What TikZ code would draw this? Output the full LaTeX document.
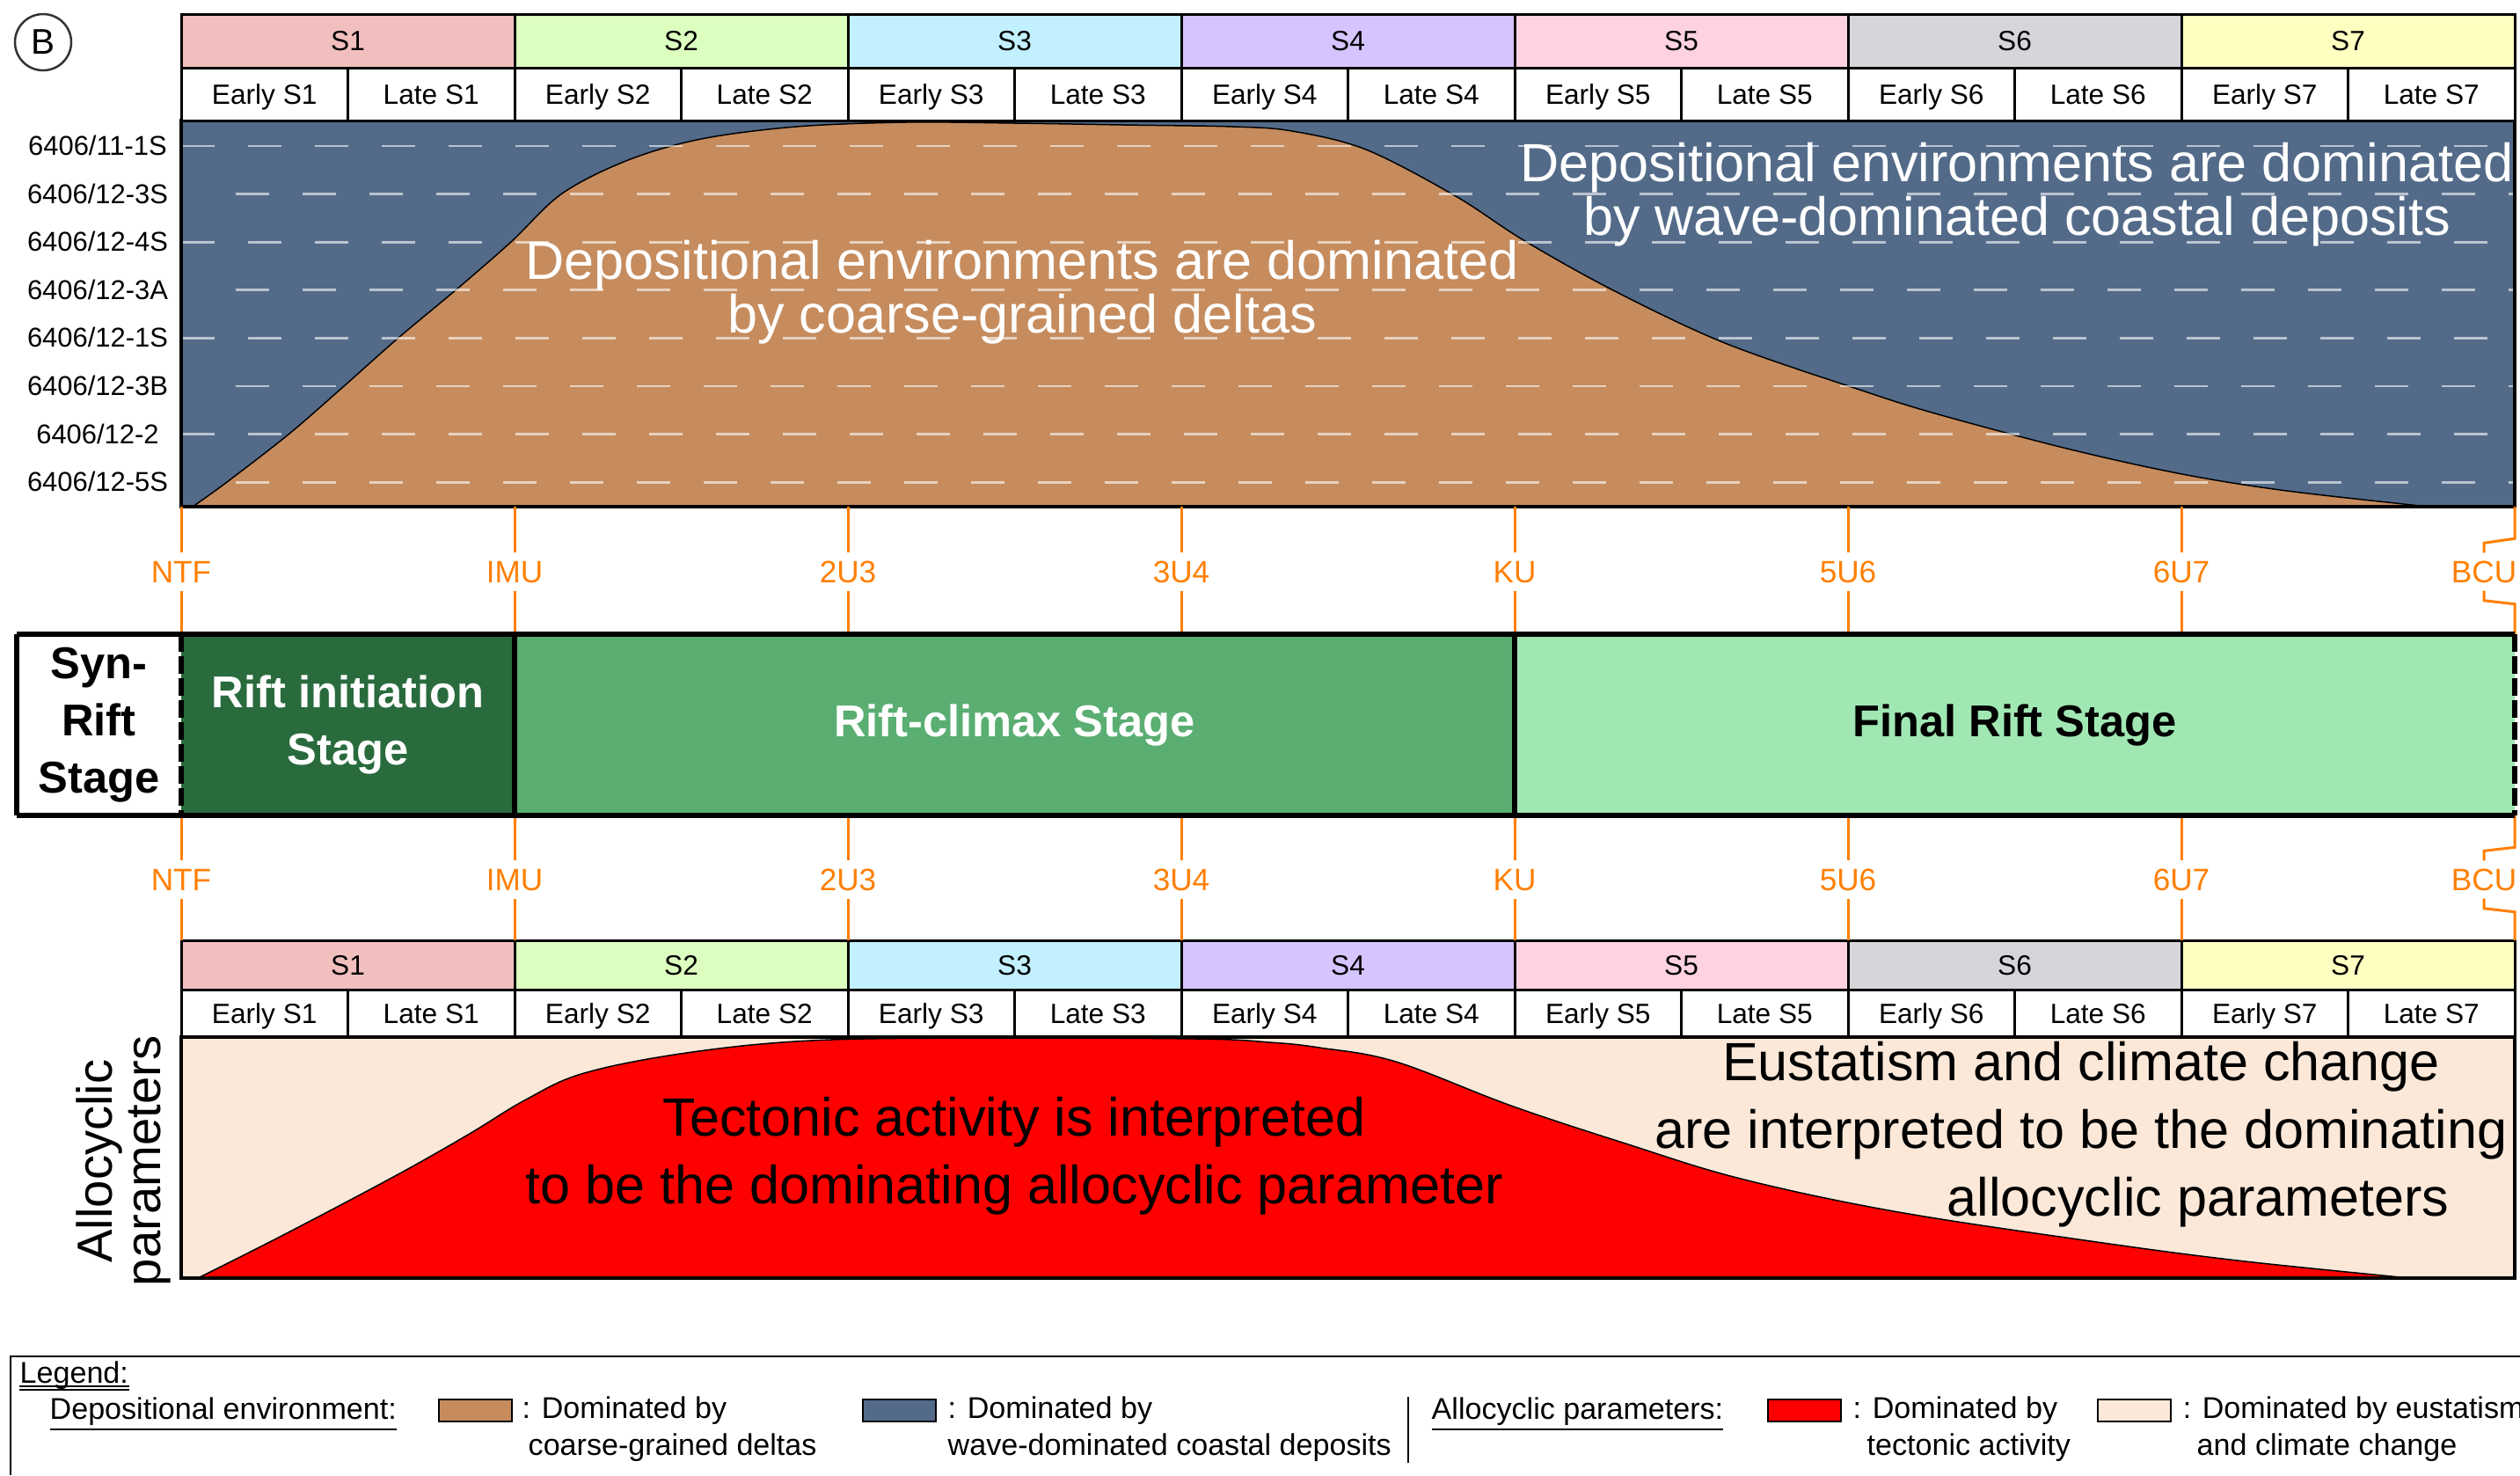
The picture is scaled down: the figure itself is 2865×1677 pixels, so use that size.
\documentclass[tikz,border=0pt]{standalone}
\usepackage{fontspec}
\setmainfont{Liberation Sans}
\usetikzlibrary{positioning}

\definecolor{scA}{RGB}{242,191,191}
\definecolor{scB}{RGB}{220,255,192}
\definecolor{scC}{RGB}{194,240,255}
\definecolor{scD}{RGB}{214,196,255}
\definecolor{scE}{RGB}{255,210,226}
\definecolor{scF}{RGB}{215,213,218}
\definecolor{scG}{RGB}{255,255,194}
\definecolor{wave}{RGB}{83,107,137}
\definecolor{delta}{RGB}{198,140,94}
\definecolor{tecto}{RGB}{255,0,0}
\definecolor{eusta}{RGB}{251,232,217}
\definecolor{rinitc}{RGB}{41,107,61}
\definecolor{rclimc}{RGB}{90,174,114}
\definecolor{rfinc}{RGB}{161,231,180}
\definecolor{surf}{RGB}{255,127,0}

\begin{document}
\begin{tikzpicture}[x=0.1mm, y=-0.1mm,
  cell/.style={draw, line width=0.3mm, inner sep=0pt, outer sep=0pt,
               font=\fontsize{9}{10}\selectfont, text height=6.4pt, text depth=0pt},
  scell/.style={cell, minimum width=37.9mm, minimum height=6.1mm},
  hcell/.style={cell, fill=white, minimum width=18.95mm, minimum height=6mm},
  well/.style={font=\fontsize{8.8}{10}\selectfont, anchor=base, inner sep=0pt},
  surface/.style={font=\fontsize{10}{12}\selectfont, text=surf, inner sep=0pt,
                  minimum height=4.2mm, text height=7.2pt, text depth=0pt},
  bline/.style={draw=surf, line width=0.3mm},
  stagebox/.style={minimum height=20.6mm, inner sep=0pt, outer sep=0pt, align=center,
                   font=\fontsize{14.4}{18.5}\selectfont\bfseries},
  bigtext/.style={align=center, anchor=base, inner sep=0pt},
  wavedash/.style={draw=white, opacity=0.6, line width=0.27mm, dash pattern=on 3.8mm off 3.8mm},
  legend/.style={font=\fontsize{9.7}{11.7}\selectfont, anchor=base west, inner sep=0pt, align=left},
  lbox/.style={draw, line width=0.2mm, minimum width=8.3mm, minimum height=2.5mm, inner sep=0pt}
]
\useasboundingbox (0,0) rectangle (2865,1677);

\node[draw=black!80, circle, line width=0.25mm, minimum size=6.4mm, inner sep=0pt,
      font=\fontsize{11.5}{12}\selectfont] (panel) at (49,48) {B};

\coordinate (tcSW) at (206,576);
\coordinate (tcSE) at (2859,576);
\coordinate (bcNW) at (206,1069);
\coordinate (bcNE) at (2859,1069);

\fill[wave] (206,137) rectangle (2859,576);
\filldraw[fill=delta, draw=black, line width=0.15mm] plot[smooth, tension=0.55] coordinates {
  (219,576) (258,548) (329,493) (391,439) (453,384) (519,329) (581,275) (639,220)
  (714,182) (797,158) (905,144) (1029,139) (1154,140) (1278,142) (1402,144) (1469,149)
  (1553,170) (1655,223) (1732,273) (1834,330) (1961,390) (2114,443) (2200,470)
  (2350,510) (2481,539) (2600,558) (2761,576)} -- cycle;
\foreach \n in {1,3,5,7}
  \draw[wavedash] (206,111.4+54.6*\n) -- (2859,111.4+54.6*\n);
\foreach \n in {2,4,6,8}
  \draw[wavedash] (268,111.4+54.6*\n) -- (2859,111.4+54.6*\n);
\draw[line width=0.4mm] (206,137) rectangle (2859,576);

\foreach \k/\c in {1/scA,2/scB,3/scC,4/scD,5/scE,6/scF,7/scG}{
  \node[scell, fill=\c] (tS\k) at (16.5+379*\k,46.5) {S\k};
  \node[hcell] (tE\k) at (379*\k-78.25,107) {Early S\k};
  \node[hcell] (tL\k) at (379*\k+111.25,107) {Late S\k};
  \node[scell, fill=\c, minimum height=5.6mm] (bS\k) at (16.5+379*\k,1097) {S\k};
  \node[hcell, minimum height=5.4mm] (bE\k) at (379*\k-78.25,1152) {Early S\k};
  \node[hcell, minimum height=5.4mm] (bL\k) at (379*\k+111.25,1152) {Late S\k};
}

\foreach \w [count=\n] in {6406/11-1S,6406/12-3S,6406/12-4S,6406/12-3A,6406/12-1S,6406/12-3B,6406/12-2,6406/12-5S}
  \node[well] (well\n) at (111,121.9+54.6*\n) {\w};

\node[stagebox, fill=white, minimum width=18.7mm] (synrift) at (112.5,824) {Syn-\\Rift\\Stage};
\node[stagebox, fill=rinitc, text=white, minimum width=37.9mm, right=0pt of synrift] (rinit) {Rift initiation\\Stage};
\node[stagebox, fill=rclimc, text=white, minimum width=113.7mm, right=0pt of rinit] (rclimax) {Rift-climax Stage};
\node[stagebox, fill=rfinc, minimum width=113.7mm, right=0pt of rclimax] (rfinal) {Final Rift Stage};

\foreach \k/\t in {0/NTF,1/IMU,2/2U3,3/3U4,4/KU,5/5U6,6/6U7}{
  \node[surface] (ub\k) at (206+379*\k,650) {\t};
  \node[surface] (lb\k) at (206+379*\k,1000) {\t};
  \draw[bline] (ub\k.north) -- (ub\k.north |- tcSW);
  \draw[bline] (ub\k.south) -- (ub\k.south |- rinit.north);
  \draw[bline] (lb\k.north) -- (lb\k.north |- rinit.south);
  \draw[bline] (lb\k.south) -- (lb\k.south |- bcNW);
}
\node[surface] (ub7) at (2824,650) {BCU};
\node[surface] (lb7) at (2824,1000) {BCU};
\draw[bline] (ub7.north) -- ++(0,-11) -- ++(35,-5) -- (tcSE);
\draw[bline] (ub7.south) -- ++(0,11) -- ++(35,4) -- (rfinal.north east);
\draw[bline] (lb7.north) -- ++(0,-11) -- ++(35,-4) -- (rfinal.south east);
\draw[bline] (lb7.south) -- ++(0,11) -- ++(35,4) -- (bcNE);

\draw[line width=0.55mm] (synrift.north west) -- (rfinal.north east)
  (synrift.south west) -- (rfinal.south east)
  (synrift.north west) -- (synrift.south west)
  (rclimax.north west) -- (rclimax.south west)
  (rfinal.north west) -- (rfinal.south west);
\draw[line width=0.55mm, dash pattern=on 2mm off 0.5mm] (rinit.north west) -- (rinit.south west)
  (rfinal.north east) -- (rfinal.south east);

\fill[eusta] (206,1179) rectangle (2859,1453);
\filldraw[fill=tecto, draw=black, line width=0.15mm] plot[smooth, tension=0.6] coordinates {
  (225,1453) (324,1403) (449,1337) (532,1290) (598,1250) (664,1220) (780,1197)
  (921,1183) (1112,1180) (1361,1181) (1444,1185) (1500,1191) (1587,1207)
  (1718,1257) (1848,1300) (1979,1340) (2153,1377) (2370,1410) (2544,1433)
  (2740,1453)} -- cycle;
\draw[line width=0.4mm] (206,1179) rectangle (2859,1453);

\node[bigtext, text=white, font=\fontsize{17.4}{15.9}\selectfont] (deltatxt) at (1162,378)
  {Depositional environments are dominated\\by coarse-grained deltas};
\node[bigtext, text=white, font=\fontsize{17.4}{15.9}\selectfont] (wavetxt) at (2293,267)
  {Depositional environments are dominated\\by wave-dominated coastal deposits};
\node[bigtext, font=\fontsize{17.4}{21.7}\selectfont] (tecttxt) at (1153,1368)
  {Tectonic activity is interpreted\\to be the dominating allocyclic parameter};
\node[bigtext, font=\fontsize{17.4}{21.8}\selectfont] (eustxt) at (2366,1382)
  {Eustatism and climate change\\are interpreted to be the dominating\\\hspace*{26.6mm}allocyclic parameters};
\node[bigtext, rotate=90, font=\fontsize{16}{15.6}\selectfont] (alloc) at (182,1320)
  {Allocyclic\\parameters};

\draw[line width=0.25mm] (12,1677) -- (12,1542) -- (2865,1542);
\node[legend] (legtitle) at (22,1572) {Legend:};
\draw[line width=0.15mm] ([yshift=-1.1pt]legtitle.base west) -- ([yshift=-1.1pt]legtitle.base east)
  ([yshift=-2.2pt]legtitle.base west) -- ([yshift=-2.2pt]legtitle.base east);
\node[legend] (depenv) at (56,1613) {\underline{Depositional environment:}};
\node[lbox, fill=delta] (kdelta) at (540.5,1603.5) {};
\node[legend] (tdelta) at (593,1654) {: Dominated by\\\hspace*{0.7mm}coarse-grained deltas};
\node[lbox, fill=wave] (kwave) at (1022,1603.5) {};
\node[legend] (twave) at (1077,1654) {: Dominated by\\wave-dominated coastal deposits};
\draw[line width=0.2mm] (1601,1588) -- (1601,1663);
\node[legend] (allopar) at (1627,1613) {\underline{Allocyclic parameters:}};
\node[lbox, fill=tecto] (ktecto) at (2051,1603.5) {};
\node[legend] (ttecto) at (2106,1654) {: Dominated by\\\hspace*{1.6mm}tectonic activity};
\node[lbox, fill=eusta] (keusta) at (2426.5,1603.5) {};
\node[legend] (teusta) at (2481,1654) {: Dominated by eustatism\\\hspace*{1.6mm}and climate change};
\end{tikzpicture}
\end{document}
